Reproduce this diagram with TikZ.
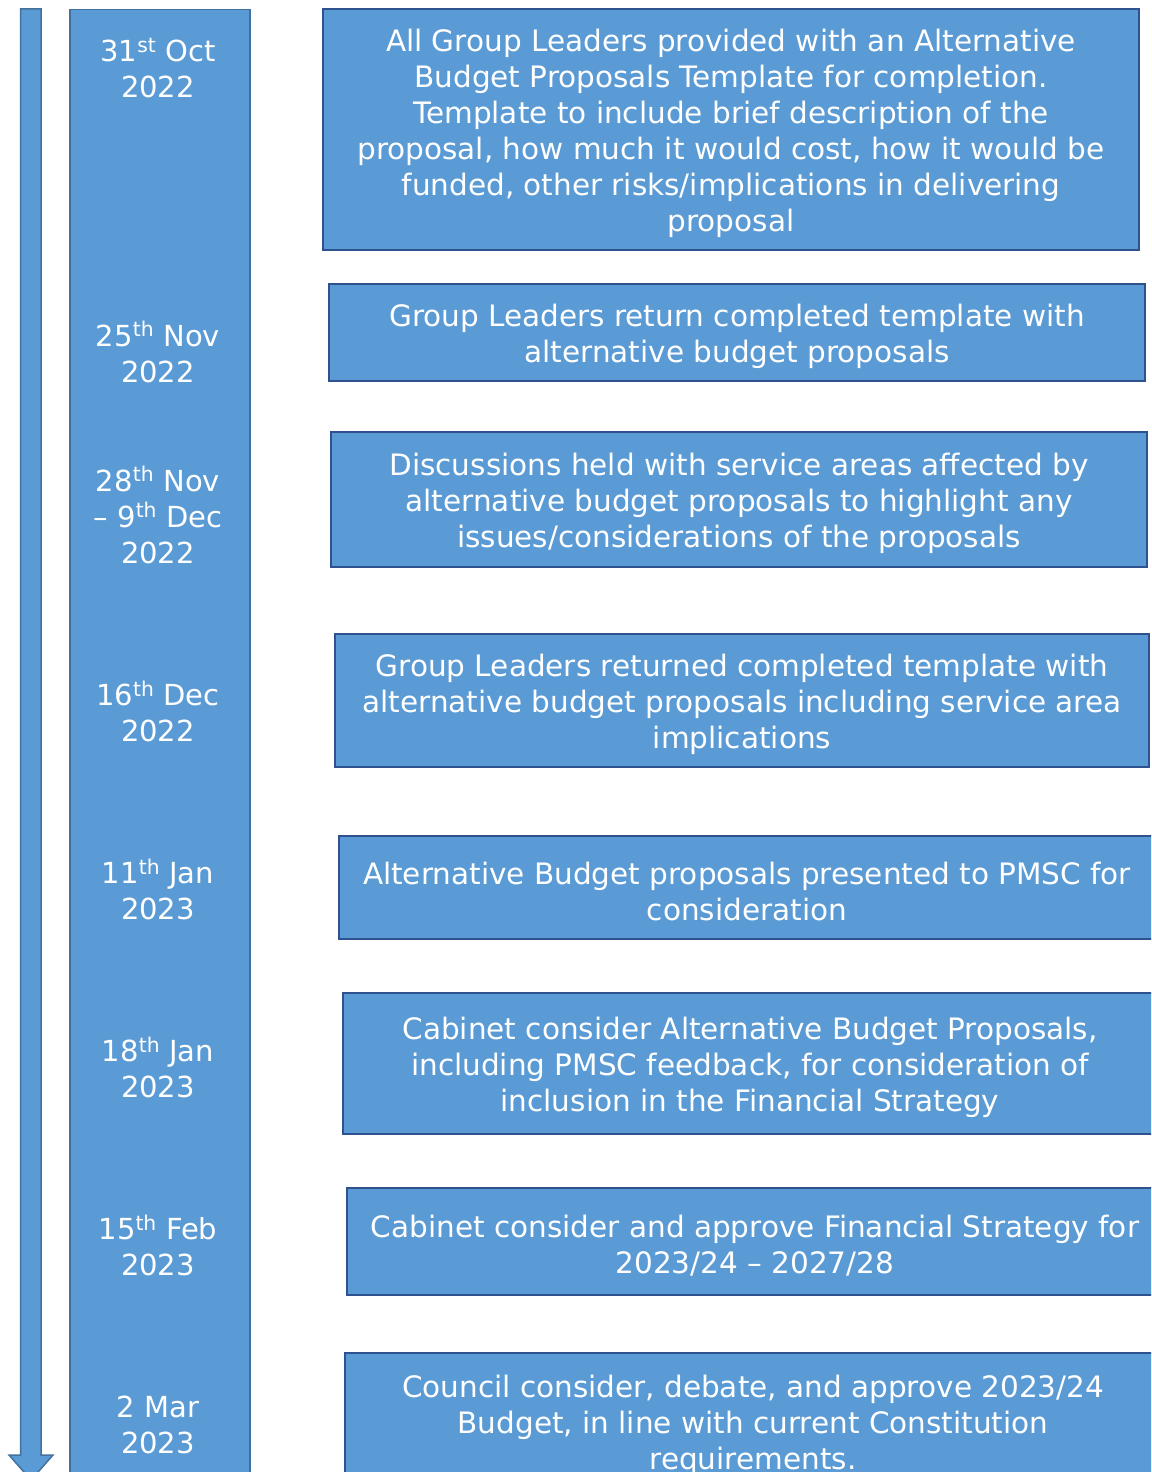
\documentclass[tikz,border=0pt]{standalone}
\usepackage{fontspec}
\setmainfont{DejaVu Sans}
\definecolor{fillblue}{HTML}{5B9BD5}
\definecolor{darkedge}{HTML}{2F528F}
\definecolor{coledge}{HTML}{41719C}
\newcommand\mytopstrut{\rule{0pt}{31pt}}
\begin{document}
\begin{tikzpicture}[x=1pt,y=-1pt,
  stepbox/.style={draw=darkedge, line width=2.2pt, fill=fillblue, text=white, align=center, inner sep=0pt,
    font=\fontsize{29.5}{36}\selectfont},
  datetxt/.style={text=white, align=center, inner sep=0pt, font=\fontsize{29}{36}\selectfont},
  column/.style={draw=coledge, line width=1.5pt, fill=fillblue}]
\useasboundingbox (0,0) rectangle (1151,1472);
\clip (0,0) rectangle (1151,1472);
% timeline arrow
\draw[column] (20.5,9) -- (41,9) -- (41,1455) -- (53,1455) -- (31,1480) -- (9,1455) -- (20.5,1455) -- cycle;
% date column
\node[column, minimum width=180pt, minimum height=1500pt, anchor=north west, inner sep=0pt] (col) at (69,9) {};
% dates
\node[datetxt] (d1) at (158,68.5) {31\textsuperscript{st} Oct\\2022};
\node[datetxt] (d2) at (158,352) {25\textsuperscript{th} Nov\\2022};
\node[datetxt] (d3) at (158,515) {28\textsuperscript{th} Nov\\– 9\textsuperscript{th} Dec\\2022};
\node[datetxt] (d4) at (158,711) {16\textsuperscript{th} Dec\\2022};
\node[datetxt] (d5) at (158,889) {11\textsuperscript{th} Jan\\2023};
\node[datetxt] (d6) at (158,1067) {18\textsuperscript{th} Jan\\2023};
\node[datetxt] (d7) at (158,1245) {15\textsuperscript{th} Feb\\2023};
\node[datetxt] (d8) at (158,1425) {2 Mar\\2023};
% boxes
\node[stepbox, minimum width=816pt, minimum height=241pt] (b1) at (731,129.5) {\mytopstrut All Group Leaders provided with an Alternative\\Budget Proposals Template for completion.\\Template to include brief description of the\\proposal, how much it would cost, how it would be\\funded, other risks/implications in delivering\\proposal};
\node[stepbox, minimum width=816pt, minimum height=97pt] (b2) at (737,332.5) {\mytopstrut Group Leaders return completed template with\\alternative budget proposals};
\node[stepbox, minimum width=816pt, minimum height=135pt] (b3) at (739,499.5) {\mytopstrut Discussions held with service areas affected by\\alternative budget proposals to highlight any\\issues/considerations of the proposals};
\node[stepbox, minimum width=814pt, minimum height=133pt] (b4) at (742,700.5) {\mytopstrut Group Leaders returned completed template with\\alternative budget proposals including service area\\implications};
\node[stepbox, minimum width=816pt, minimum height=103pt] (b5) at (747,887.5) {\mytopstrut Alternative Budget proposals presented to PMSC for\\consideration};
\node[stepbox, minimum width=814pt, minimum height=141pt] (b6) at (750,1063.5) {\mytopstrut Cabinet consider Alternative Budget Proposals,\\including PMSC feedback, for consideration of\\inclusion in the Financial Strategy};
\node[stepbox, minimum width=816pt, minimum height=107pt] (b7) at (755,1241.5) {\mytopstrut Cabinet consider and approve Financial Strategy for\\2023/24 – 2027/28};
\node[stepbox, minimum width=816pt, minimum height=136pt] (b8) at (753,1421) {\mytopstrut Council consider, debate, and approve 2023/24\\Budget, in line with current Constitution\\requirements.};
\end{tikzpicture}
\end{document}
